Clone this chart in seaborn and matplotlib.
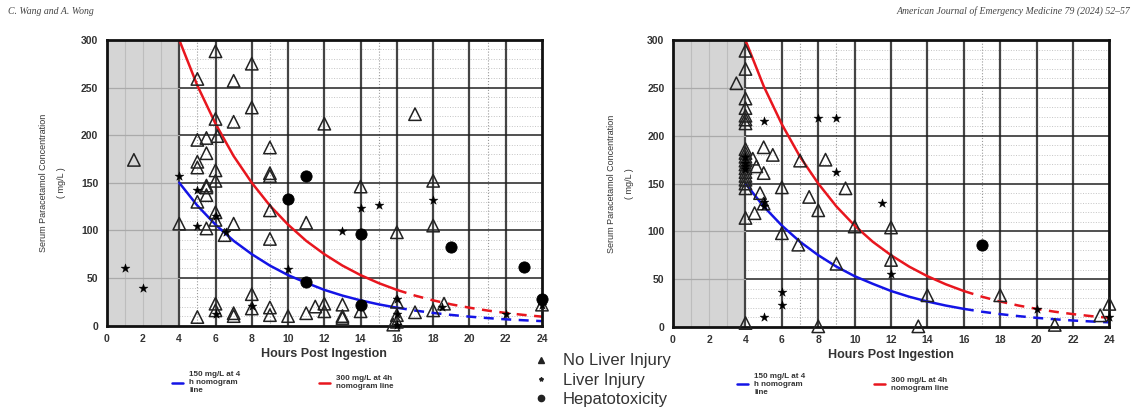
import numpy as np
import pandas as pd
import matplotlib.pyplot as plt
import seaborn as sns
from matplotlib.lines import Line2D
from matplotlib.ticker import MultipleLocator

sns.set_style("white")
plt.rcParams['font.family'] = ['Liberation Sans', 'DejaVu Sans']

# nomogram lines
nomo_hours = [4, 5, 6, 7, 8, 9, 10, 11, 12, 13, 14, 15, 16, 17, 18, 19, 20, 21, 22, 23, 24]
nomo_150 = [150, 126, 106, 89, 75, 63, 53, 45, 37.5, 31.5, 26.5, 22.3, 18.8, 15.8, 13.3, 11.2, 9.4, 7.9, 6.6, 5.6, 4.7]
nomo_300 = [300, 252, 212, 178, 150, 126, 106, 89, 75, 63, 53, 44.6, 37.5, 31.5, 26.5, 22.3, 18.8, 15.8, 13.3, 11.2, 9.4]

# left panel
left_none_h = [1.5, 4, 5, 7, 8, 6, 8, 6, 7, 12, 17, 5, 5.5, 6.1, 9, 5.5, 5, 5, 9, 9, 6, 6, 5.5, 5.5, 5.5,
               5, 6, 6, 5.5, 7, 6.5, 9, 9, 11, 14, 18, 18, 16,
               5, 6, 6, 7, 7, 8, 8, 9, 9, 10, 11, 11.5, 12, 12, 13, 13, 13, 14, 16, 16, 16, 15.8, 17, 18, 18.6, 24]
left_none_c = [174, 107, 259, 257, 275, 288, 229, 217, 214, 212, 222, 195, 197, 199, 187, 181, 172, 166, 160, 157, 163, 152, 147, 145, 137,
               130, 119, 111, 102, 107, 95, 121, 91, 108, 146, 152, 105, 98,
               9, 23, 16, 13, 10, 33, 18, 19, 11, 10, 13, 20, 23, 15, 22, 10, 8, 15, 25, 11, 4, 1, 14, 16, 23, 22]
left_inj_h = [1, 2, 4, 5, 6, 5, 6.6, 10, 8, 6, 13, 14, 15, 18, 16, 16, 18.5, 22, 24, 16]
left_inj_c = [60, 40, 157, 142, 115, 105, 98, 59, 21, 12, 99, 124, 127, 132, 28, 12, 20, 12, 22, 1]
left_hep_h = [11, 10, 14, 11, 19, 23, 24, 14]
left_hep_c = [157, 133, 96, 46, 83, 62, 28, 22]

# right panel
right_none_h = [4, 4, 3.5, 4, 4, 4, 4, 4, 4, 4, 4, 4, 4, 4, 4, 4, 4, 4, 4, 5, 5.5, 4.4, 4.6, 5, 7, 8.4,
                6, 9.5, 7.5, 4.8, 5, 8, 4, 4.5, 6, 6.9, 9, 10, 12, 12, 14, 18, 24, 23.5, 21, 13.5, 4, 8]
right_none_c = [289, 270, 255, 239, 229, 221, 217, 213, 186, 182, 178, 174, 170, 166, 162, 158, 154, 150, 145, 188, 180, 176, 168, 161, 174, 175,
                146, 145, 136, 140, 129, 122, 114, 119, 98, 86, 66, 105, 104, 70, 33, 33, 24, 12, 2, 0.5, 4, 0.5]
right_inj_h = [5, 8, 9, 9, 4, 4, 4, 4, 5, 5, 6, 6, 5, 11.5, 12, 20, 24]
right_inj_c = [216, 219, 219, 162, 178, 172, 168, 165, 131, 127, 36, 23, 10, 130, 55, 19, 10]
right_hep_h = [17]
right_hep_c = [86]


def make_df(none_h, none_c, inj_h, inj_c, hep_h, hep_c):
    return pd.DataFrame({
        'hours': none_h + inj_h + hep_h,
        'conc': none_c + inj_c + hep_c,
        'outcome': ['No Liver Injury'] * len(none_h) + ['Liver Injury'] * len(inj_h)
                   + ['Hepatotoxicity'] * len(hep_h),
    })


def draw_panel(ax, df, dotted_x, leg_x, leg_space):
    ax.axvspan(0, 4, color='#d5d5d5', zorder=0, lw=0)
    for x in [1, 2, 3]:
        ax.axvline(x, color='#bdbdbd', lw=0.8, zorder=0.5)
    for y in range(10, 300, 10):
        if y % 50:
            ax.axhline(y, xmin=4 / 24, color='#c4c4c4', lw=0.7, ls=':', zorder=0.5)
    for x in dotted_x:
        ax.axvline(x, color='#9a9a9a', lw=0.8, ls=':', zorder=0.5)
    for x in range(4, 24, 2):
        ax.axvline(x, color='#444444', lw=1.6, zorder=0.6)
    for y in range(50, 300, 50):
        ax.axhline(y, xmin=4 / 24, color='#222222', lw=1.1, zorder=0.6)
        ax.axhline(y, xmax=4 / 24, color='#aaaaaa', lw=0.9, zorder=0.6)

    # nomogram lines, solid to 16 h then dashed
    h = np.array(nomo_hours)
    for vals, col, lab in [(nomo_150, '#1414e6', '150 mg/L at 4\nh nomogram\nline'),
                           (nomo_300, '#e8161e', '300 mg/L at 4h\nnomogram line')]:
        v = np.array(vals)
        sns.lineplot(x=h[h <= 16], y=v[h <= 16], ax=ax, color=col, lw=1.8, label=lab, zorder=2)
        sns.lineplot(x=h[h >= 16], y=v[h >= 16], ax=ax, color=col, lw=1.8, ls=(0, (4, 3)), zorder=2)

    sub = df[df.outcome == 'No Liver Injury']
    sns.scatterplot(data=sub, x='hours', y='conc', ax=ax, marker='^', s=80,
                    facecolors='none', edgecolor='#222222', linewidth=1.1, zorder=3, clip_on=False, legend=False)
    sub = df[df.outcome == 'Liver Injury']
    sns.scatterplot(data=sub, x='hours', y='conc', ax=ax, marker='*', s=45,
                    color='black', edgecolor='black', linewidth=0.3, zorder=4, clip_on=False, legend=False)
    sub = df[df.outcome == 'Hepatotoxicity']
    sns.scatterplot(data=sub, x='hours', y='conc', ax=ax, marker='o', s=65,
                    color='black', edgecolor='black', zorder=4, clip_on=False, legend=False)

    ax.set_xlim(0, 24)
    ax.set_ylim(0, 300)
    ax.xaxis.set_major_locator(MultipleLocator(2))
    ax.xaxis.set_minor_locator(MultipleLocator(1))
    ax.yaxis.set_major_locator(MultipleLocator(50))
    ax.yaxis.set_minor_locator(MultipleLocator(10))
    ax.tick_params(which='both', direction='out', width=1.4, colors='#222222',
                   labelsize=7.5, labelcolor='#333333', pad=2)
    ax.tick_params(which='major', length=4)
    ax.tick_params(which='minor', length=2.5)
    for lab in ax.get_xticklabels() + ax.get_yticklabels():
        lab.set_fontweight('bold')
    for sp in ax.spines.values():
        sp.set_linewidth(2)
        sp.set_color('#111111')
    ax.set_xlabel('Hours Post Ingestion', fontsize=9, fontweight='bold', color='#333333', labelpad=3)
    ax.set_ylabel('Serum Paracetamol Concentration\n\n( mg/L )', fontsize=6.5, color='#333333', linespacing=1.0)

    ax.legend(loc='upper center', bbox_to_anchor=(leg_x, -0.135), ncol=2, frameon=False,
              prop={'size': 5.8, 'weight': 'bold'}, handlelength=1.3, columnspacing=leg_space, labelcolor='#333333')


fig = plt.figure(figsize=(11.35, 4.07), dpi=100)
ax1 = fig.add_axes([0.094, 0.2, 0.3835, 0.702])
ax2 = fig.add_axes([0.5927, 0.197, 0.3847, 0.704])

draw_panel(ax1, make_df(left_none_h, left_none_c, left_inj_h, left_inj_c, left_hep_h, left_hep_c),
           [5, 9, 15, 21], 0.405, 9.8)
draw_panel(ax2, make_df(right_none_h, right_none_c, right_inj_h, right_inj_c, right_hep_h, right_hep_c),
           [7, 9, 17], 0.39, 8.6)
ax1.yaxis.set_label_coords(-0.094, 0.5)
ax2.yaxis.set_label_coords(-0.089, 0.5)

fig.text(0.007, 0.972, 'C. Wang and A. Wong', fontsize=7, style='italic', family='Liberation Serif',
         color='#444444', va='center')
fig.text(0.996, 0.972, 'American Journal of Emergency Medicine 79 (2024) 52\u201357', fontsize=7,
         style='italic', family='Liberation Serif', color='#444444', va='center', ha='right')

handles = [Line2D([], [], ls='', marker='^', color='#222222', markersize=5),
           Line2D([], [], ls='', marker='*', color='#222222', markersize=3),
           Line2D([], [], ls='', marker='o', color='#222222', markersize=4.5)]
fig.legend(handles, ['No Liver Injury', 'Liver Injury', 'Hepatotoxicity'], loc='upper left',
           bbox_to_anchor=(0.462, 0.148), frameon=False, fontsize=12, labelcolor='#333333',
           handlelength=1.2, handletextpad=0.7, labelspacing=0.25, borderaxespad=0)

fig.savefig('out.png', dpi=100)
